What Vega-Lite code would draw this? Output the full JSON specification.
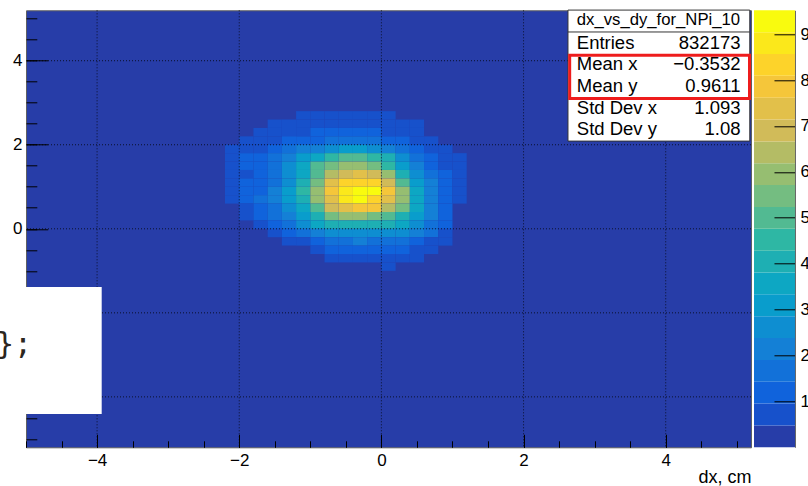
{
  "$schema": "https://vega.github.io/schema/vega-lite/v6.json",
  "autosize": {"type": "pad"},
  "padding": {"left": -5, "top": 8.3, "right": 0, "bottom": 0},
  "background": "white",
  "config": {
    "font": "Liberation Sans",
    "view": {"stroke": null},
    "axis": {"labelColor": "#000", "titleColor": "#000", "tickColor": "#000", "zindex": 0}
  },
  "spacing": 3,
  "bounds": "flush",
  "datasets": {
    "cells": [
      {"x":-1.2,"x2":-1,"y":2.6,"y2":2.8,"n":714},{"x":-1,"x2":-0.8,"y":2.6,"y2":2.8,"n":714},{"x":-0.8,"x2":-0.6,"y":2.6,"y2":2.8,"n":714},{"x":-0.6,"x2":-0.4,"y":2.6,"y2":2.8,"n":714},{"x":-0.4,"x2":-0.2,"y":2.6,"y2":2.8,"n":714},{"x":-0.2,"x2":0,"y":2.6,"y2":2.8,"n":714},{"x":0,"x2":0.2,"y":2.6,"y2":2.8,"n":714},

      {"x":-1.6,"x2":-1.4,"y":2.4,"y2":2.6,"n":714},{"x":-1.4,"x2":-1.2,"y":2.4,"y2":2.6,"n":714},{"x":-1.2,"x2":-1,"y":2.4,"y2":2.6,"n":714},{"x":-1,"x2":-0.8,"y":2.4,"y2":2.6,"n":714},{"x":-0.8,"x2":-0.6,"y":2.4,"y2":2.6,"n":714},{"x":-0.6,"x2":-0.4,"y":2.4,"y2":2.6,"n":714},{"x":-0.4,"x2":-0.2,"y":2.4,"y2":2.6,"n":714},{"x":-0.2,"x2":0,"y":2.4,"y2":2.6,"n":714},{"x":0,"x2":0.2,"y":2.4,"y2":2.6,"n":714},{"x":0.2,"x2":0.4,"y":2.4,"y2":2.6,"n":714},{"x":0.4,"x2":0.6,"y":2.4,"y2":2.6,"n":714},

      {"x":-1.8,"x2":-1.6,"y":2.2,"y2":2.4,"n":714},{"x":-1.6,"x2":-1.4,"y":2.2,"y2":2.4,"n":714},{"x":-1.4,"x2":-1.2,"y":2.2,"y2":2.4,"n":714},{"x":-1.2,"x2":-1,"y":2.2,"y2":2.4,"n":714},{"x":-1,"x2":-0.8,"y":2.2,"y2":2.4,"n":1190},{"x":-0.8,"x2":-0.6,"y":2.2,"y2":2.4,"n":1190},{"x":-0.6,"x2":-0.4,"y":2.2,"y2":2.4,"n":1190},{"x":-0.4,"x2":-0.2,"y":2.2,"y2":2.4,"n":1190},{"x":-0.2,"x2":0,"y":2.2,"y2":2.4,"n":1190},{"x":0,"x2":0.2,"y":2.2,"y2":2.4,"n":714},{"x":0.2,"x2":0.4,"y":2.2,"y2":2.4,"n":714},{"x":0.4,"x2":0.6,"y":2.2,"y2":2.4,"n":714},

      {"x":-2,"x2":-1.8,"y":2,"y2":2.2,"n":714},{"x":-1.8,"x2":-1.6,"y":2,"y2":2.2,"n":714},{"x":-1.6,"x2":-1.4,"y":2,"y2":2.2,"n":714},{"x":-1.4,"x2":-1.2,"y":2,"y2":2.2,"n":1190},{"x":-1.2,"x2":-1,"y":2,"y2":2.2,"n":1190},{"x":-1,"x2":-0.8,"y":2,"y2":2.2,"n":1190},{"x":-0.8,"x2":-0.6,"y":2,"y2":2.2,"n":1666},{"x":-0.6,"x2":-0.4,"y":2,"y2":2.2,"n":1666},{"x":-0.4,"x2":-0.2,"y":2,"y2":2.2,"n":1666},{"x":-0.2,"x2":0,"y":2,"y2":2.2,"n":1666},{"x":0,"x2":0.2,"y":2,"y2":2.2,"n":1190},{"x":0.2,"x2":0.4,"y":2,"y2":2.2,"n":1190},{"x":0.4,"x2":0.6,"y":2,"y2":2.2,"n":714},{"x":0.6,"x2":0.8,"y":2,"y2":2.2,"n":714},

      {"x":-2.2,"x2":-2,"y":1.8,"y2":2,"n":714},{"x":-2,"x2":-1.8,"y":1.8,"y2":2,"n":714},{"x":-1.8,"x2":-1.6,"y":1.8,"y2":2,"n":714},{"x":-1.6,"x2":-1.4,"y":1.8,"y2":2,"n":1190},{"x":-1.4,"x2":-1.2,"y":1.8,"y2":2,"n":1666},{"x":-1.2,"x2":-1,"y":1.8,"y2":2,"n":2142},{"x":-1,"x2":-0.8,"y":1.8,"y2":2,"n":2142},{"x":-0.8,"x2":-0.6,"y":1.8,"y2":2,"n":2618},{"x":-0.6,"x2":-0.4,"y":1.8,"y2":2,"n":3094},{"x":-0.4,"x2":-0.2,"y":1.8,"y2":2,"n":3094},{"x":-0.2,"x2":0,"y":1.8,"y2":2,"n":2618},{"x":0,"x2":0.2,"y":1.8,"y2":2,"n":2142},{"x":0.2,"x2":0.4,"y":1.8,"y2":2,"n":1666},{"x":0.4,"x2":0.6,"y":1.8,"y2":2,"n":1190},{"x":0.6,"x2":0.8,"y":1.8,"y2":2,"n":714},{"x":0.8,"x2":1,"y":1.8,"y2":2,"n":714},

      {"x":-2.2,"x2":-2,"y":1.6,"y2":1.8,"n":714},{"x":-2,"x2":-1.8,"y":1.6,"y2":1.8,"n":1190},{"x":-1.8,"x2":-1.6,"y":1.6,"y2":1.8,"n":1190},{"x":-1.6,"x2":-1.4,"y":1.6,"y2":1.8,"n":1666},{"x":-1.4,"x2":-1.2,"y":1.6,"y2":1.8,"n":2142},{"x":-1.2,"x2":-1,"y":1.6,"y2":1.8,"n":3094},{"x":-1,"x2":-0.8,"y":1.6,"y2":1.8,"n":3570},{"x":-0.8,"x2":-0.6,"y":1.6,"y2":1.8,"n":4522},{"x":-0.6,"x2":-0.4,"y":1.6,"y2":1.8,"n":4998},{"x":-0.4,"x2":-0.2,"y":1.6,"y2":1.8,"n":4998},{"x":-0.2,"x2":0,"y":1.6,"y2":1.8,"n":4522},{"x":0,"x2":0.2,"y":1.6,"y2":1.8,"n":4046},{"x":0.2,"x2":0.4,"y":1.6,"y2":1.8,"n":2618},{"x":0.4,"x2":0.6,"y":1.6,"y2":1.8,"n":1666},{"x":0.6,"x2":0.8,"y":1.6,"y2":1.8,"n":1190},{"x":0.8,"x2":1,"y":1.6,"y2":1.8,"n":714},{"x":1,"x2":1.2,"y":1.6,"y2":1.8,"n":714},

      {"x":-2.2,"x2":-2,"y":1.4,"y2":1.6,"n":714},{"x":-2,"x2":-1.8,"y":1.4,"y2":1.6,"n":1190},{"x":-1.8,"x2":-1.6,"y":1.4,"y2":1.6,"n":1190},{"x":-1.6,"x2":-1.4,"y":1.4,"y2":1.6,"n":1666},{"x":-1.4,"x2":-1.2,"y":1.4,"y2":1.6,"n":2618},{"x":-1.2,"x2":-1,"y":1.4,"y2":1.6,"n":3570},{"x":-1,"x2":-0.8,"y":1.4,"y2":1.6,"n":4998},{"x":-0.8,"x2":-0.6,"y":1.4,"y2":1.6,"n":5474},{"x":-0.6,"x2":-0.4,"y":1.4,"y2":1.6,"n":5950},{"x":-0.4,"x2":-0.2,"y":1.4,"y2":1.6,"n":5950},{"x":-0.2,"x2":0,"y":1.4,"y2":1.6,"n":5474},{"x":0,"x2":0.2,"y":1.4,"y2":1.6,"n":4522},{"x":0.2,"x2":0.4,"y":1.4,"y2":1.6,"n":3094},{"x":0.4,"x2":0.6,"y":1.4,"y2":1.6,"n":2142},{"x":0.6,"x2":0.8,"y":1.4,"y2":1.6,"n":1190},{"x":0.8,"x2":1,"y":1.4,"y2":1.6,"n":714},{"x":1,"x2":1.2,"y":1.4,"y2":1.6,"n":714},

      {"x":-2.2,"x2":-2,"y":1.2,"y2":1.4,"n":714},{"x":-2,"x2":-1.8,"y":1.2,"y2":1.4,"n":714},{"x":-1.8,"x2":-1.6,"y":1.2,"y2":1.4,"n":1190},{"x":-1.6,"x2":-1.4,"y":1.2,"y2":1.4,"n":1666},{"x":-1.4,"x2":-1.2,"y":1.2,"y2":1.4,"n":2618},{"x":-1.2,"x2":-1,"y":1.2,"y2":1.4,"n":3570},{"x":-1,"x2":-0.8,"y":1.2,"y2":1.4,"n":4998},{"x":-0.8,"x2":-0.6,"y":1.2,"y2":1.4,"n":6426},{"x":-0.6,"x2":-0.4,"y":1.2,"y2":1.4,"n":6902},{"x":-0.4,"x2":-0.2,"y":1.2,"y2":1.4,"n":7378},{"x":-0.2,"x2":0,"y":1.2,"y2":1.4,"n":6902},{"x":0,"x2":0.2,"y":1.2,"y2":1.4,"n":5950},{"x":0.2,"x2":0.4,"y":1.2,"y2":1.4,"n":4046},{"x":0.4,"x2":0.6,"y":1.2,"y2":1.4,"n":2618},{"x":0.6,"x2":0.8,"y":1.2,"y2":1.4,"n":1666},{"x":0.8,"x2":1,"y":1.2,"y2":1.4,"n":1190},{"x":1,"x2":1.2,"y":1.2,"y2":1.4,"n":714},

      {"x":-2.2,"x2":-2,"y":1,"y2":1.2,"n":714},{"x":-2,"x2":-1.8,"y":1,"y2":1.2,"n":1190},{"x":-1.8,"x2":-1.6,"y":1,"y2":1.2,"n":1190},{"x":-1.6,"x2":-1.4,"y":1,"y2":1.2,"n":1666},{"x":-1.4,"x2":-1.2,"y":1,"y2":1.2,"n":2618},{"x":-1.2,"x2":-1,"y":1,"y2":1.2,"n":4046},{"x":-1,"x2":-0.8,"y":1,"y2":1.2,"n":5474},{"x":-0.8,"x2":-0.6,"y":1,"y2":1.2,"n":7378},{"x":-0.6,"x2":-0.4,"y":1,"y2":1.2,"n":8330},{"x":-0.4,"x2":-0.2,"y":1,"y2":1.2,"n":8330},{"x":-0.2,"x2":0,"y":1,"y2":1.2,"n":8330},{"x":0,"x2":0.2,"y":1,"y2":1.2,"n":6902},{"x":0.2,"x2":0.4,"y":1,"y2":1.2,"n":4998},{"x":0.4,"x2":0.6,"y":1,"y2":1.2,"n":3094},{"x":0.6,"x2":0.8,"y":1,"y2":1.2,"n":2142},{"x":0.8,"x2":1,"y":1,"y2":1.2,"n":1190},{"x":1,"x2":1.2,"y":1,"y2":1.2,"n":714},

      {"x":-2.2,"x2":-2,"y":0.8,"y2":1,"n":714},{"x":-2,"x2":-1.8,"y":0.8,"y2":1,"n":1190},{"x":-1.8,"x2":-1.6,"y":0.8,"y2":1,"n":1190},{"x":-1.6,"x2":-1.4,"y":0.8,"y2":1,"n":2142},{"x":-1.4,"x2":-1.2,"y":0.8,"y2":1,"n":3094},{"x":-1.2,"x2":-1,"y":0.8,"y2":1,"n":4522},{"x":-1,"x2":-0.8,"y":0.8,"y2":1,"n":5950},{"x":-0.8,"x2":-0.6,"y":0.8,"y2":1,"n":7854},{"x":-0.6,"x2":-0.4,"y":0.8,"y2":1,"n":8806},{"x":-0.4,"x2":-0.2,"y":0.8,"y2":1,"n":9282},{"x":-0.2,"x2":0,"y":0.8,"y2":1,"n":9282},{"x":0,"x2":0.2,"y":0.8,"y2":1,"n":7854},{"x":0.2,"x2":0.4,"y":0.8,"y2":1,"n":5950},{"x":0.4,"x2":0.6,"y":0.8,"y2":1,"n":3570},{"x":0.6,"x2":0.8,"y":0.8,"y2":1,"n":2142},{"x":0.8,"x2":1,"y":0.8,"y2":1,"n":1190},{"x":1,"x2":1.2,"y":0.8,"y2":1,"n":714},

      {"x":-2.2,"x2":-2,"y":0.6,"y2":0.8,"n":714},{"x":-2,"x2":-1.8,"y":0.6,"y2":0.8,"n":1190},{"x":-1.8,"x2":-1.6,"y":0.6,"y2":0.8,"n":1666},{"x":-1.6,"x2":-1.4,"y":0.6,"y2":0.8,"n":2142},{"x":-1.4,"x2":-1.2,"y":0.6,"y2":0.8,"n":3094},{"x":-1.2,"x2":-1,"y":0.6,"y2":0.8,"n":4046},{"x":-1,"x2":-0.8,"y":0.6,"y2":0.8,"n":5950},{"x":-0.8,"x2":-0.6,"y":0.6,"y2":0.8,"n":7378},{"x":-0.6,"x2":-0.4,"y":0.6,"y2":0.8,"n":8806},{"x":-0.4,"x2":-0.2,"y":0.6,"y2":0.8,"n":9282},{"x":-0.2,"x2":0,"y":0.6,"y2":0.8,"n":8330},{"x":0,"x2":0.2,"y":0.6,"y2":0.8,"n":7378},{"x":0.2,"x2":0.4,"y":0.6,"y2":0.8,"n":5950},{"x":0.4,"x2":0.6,"y":0.6,"y2":0.8,"n":3570},{"x":0.6,"x2":0.8,"y":0.6,"y2":0.8,"n":2142},{"x":0.8,"x2":1,"y":0.6,"y2":0.8,"n":1190},{"x":1,"x2":1.2,"y":0.6,"y2":0.8,"n":714},

      {"x":-2,"x2":-1.8,"y":0.4,"y2":0.6,"n":714},{"x":-1.8,"x2":-1.6,"y":0.4,"y2":0.6,"n":1190},{"x":-1.6,"x2":-1.4,"y":0.4,"y2":0.6,"n":1666},{"x":-1.4,"x2":-1.2,"y":0.4,"y2":0.6,"n":2618},{"x":-1.2,"x2":-1,"y":0.4,"y2":0.6,"n":3570},{"x":-1,"x2":-0.8,"y":0.4,"y2":0.6,"n":4998},{"x":-0.8,"x2":-0.6,"y":0.4,"y2":0.6,"n":6902},{"x":-0.6,"x2":-0.4,"y":0.4,"y2":0.6,"n":7378},{"x":-0.4,"x2":-0.2,"y":0.4,"y2":0.6,"n":7854},{"x":-0.2,"x2":0,"y":0.4,"y2":0.6,"n":7854},{"x":0,"x2":0.2,"y":0.4,"y2":0.6,"n":6426},{"x":0.2,"x2":0.4,"y":0.4,"y2":0.6,"n":5474},{"x":0.4,"x2":0.6,"y":0.4,"y2":0.6,"n":3570},{"x":0.6,"x2":0.8,"y":0.4,"y2":0.6,"n":2142},{"x":0.8,"x2":1,"y":0.4,"y2":0.6,"n":1190},

      {"x":-2,"x2":-1.8,"y":0.2,"y2":0.4,"n":714},{"x":-1.8,"x2":-1.6,"y":0.2,"y2":0.4,"n":1190},{"x":-1.6,"x2":-1.4,"y":0.2,"y2":0.4,"n":1666},{"x":-1.4,"x2":-1.2,"y":0.2,"y2":0.4,"n":2142},{"x":-1.2,"x2":-1,"y":0.2,"y2":0.4,"n":3094},{"x":-1,"x2":-0.8,"y":0.2,"y2":0.4,"n":4046},{"x":-0.8,"x2":-0.6,"y":0.2,"y2":0.4,"n":5474},{"x":-0.6,"x2":-0.4,"y":0.2,"y2":0.4,"n":5950},{"x":-0.4,"x2":-0.2,"y":0.2,"y2":0.4,"n":5950},{"x":-0.2,"x2":0,"y":0.2,"y2":0.4,"n":5474},{"x":0,"x2":0.2,"y":0.2,"y2":0.4,"n":4998},{"x":0.2,"x2":0.4,"y":0.2,"y2":0.4,"n":4046},{"x":0.4,"x2":0.6,"y":0.2,"y2":0.4,"n":3094},{"x":0.6,"x2":0.8,"y":0.2,"y2":0.4,"n":2142},{"x":0.8,"x2":1,"y":0.2,"y2":0.4,"n":1190},

      {"x":-1.8,"x2":-1.6,"y":0,"y2":0.2,"n":714},{"x":-1.6,"x2":-1.4,"y":0,"y2":0.2,"n":1190},{"x":-1.4,"x2":-1.2,"y":0,"y2":0.2,"n":1666},{"x":-1.2,"x2":-1,"y":0,"y2":0.2,"n":2618},{"x":-1,"x2":-0.8,"y":0,"y2":0.2,"n":3570},{"x":-0.8,"x2":-0.6,"y":0,"y2":0.2,"n":4046},{"x":-0.6,"x2":-0.4,"y":0,"y2":0.2,"n":4046},{"x":-0.4,"x2":-0.2,"y":0,"y2":0.2,"n":4046},{"x":-0.2,"x2":0,"y":0,"y2":0.2,"n":4046},{"x":0,"x2":0.2,"y":0,"y2":0.2,"n":4046},{"x":0.2,"x2":0.4,"y":0,"y2":0.2,"n":3570},{"x":0.4,"x2":0.6,"y":0,"y2":0.2,"n":2618},{"x":0.6,"x2":0.8,"y":0,"y2":0.2,"n":1666},{"x":0.8,"x2":1,"y":0,"y2":0.2,"n":1190},

      {"x":-1.6,"x2":-1.4,"y":-0.2,"y2":0,"n":714},{"x":-1.4,"x2":-1.2,"y":-0.2,"y2":0,"n":1190},{"x":-1.2,"x2":-1,"y":-0.2,"y2":0,"n":1666},{"x":-1,"x2":-0.8,"y":-0.2,"y2":0,"n":2142},{"x":-0.8,"x2":-0.6,"y":-0.2,"y2":0,"n":2618},{"x":-0.6,"x2":-0.4,"y":-0.2,"y2":0,"n":2618},{"x":-0.4,"x2":-0.2,"y":-0.2,"y2":0,"n":2618},{"x":-0.2,"x2":0,"y":-0.2,"y2":0,"n":2618},{"x":0,"x2":0.2,"y":-0.2,"y2":0,"n":2618},{"x":0.2,"x2":0.4,"y":-0.2,"y2":0,"n":2618},{"x":0.4,"x2":0.6,"y":-0.2,"y2":0,"n":2142},{"x":0.6,"x2":0.8,"y":-0.2,"y2":0,"n":1666},{"x":0.8,"x2":1,"y":-0.2,"y2":0,"n":714},

      {"x":-1.4,"x2":-1.2,"y":-0.4,"y2":-0.2,"n":714},{"x":-1.2,"x2":-1,"y":-0.4,"y2":-0.2,"n":714},{"x":-1,"x2":-0.8,"y":-0.4,"y2":-0.2,"n":1190},{"x":-0.8,"x2":-0.6,"y":-0.4,"y2":-0.2,"n":1666},{"x":-0.6,"x2":-0.4,"y":-0.4,"y2":-0.2,"n":1666},{"x":-0.4,"x2":-0.2,"y":-0.4,"y2":-0.2,"n":2142},{"x":-0.2,"x2":0,"y":-0.4,"y2":-0.2,"n":1666},{"x":0,"x2":0.2,"y":-0.4,"y2":-0.2,"n":1666},{"x":0.2,"x2":0.4,"y":-0.4,"y2":-0.2,"n":1666},{"x":0.4,"x2":0.6,"y":-0.4,"y2":-0.2,"n":1190},{"x":0.6,"x2":0.8,"y":-0.4,"y2":-0.2,"n":714},{"x":0.8,"x2":1,"y":-0.4,"y2":-0.2,"n":714},

      {"x":-1,"x2":-0.8,"y":-0.6,"y2":-0.4,"n":714},{"x":-0.8,"x2":-0.6,"y":-0.6,"y2":-0.4,"n":1190},{"x":-0.6,"x2":-0.4,"y":-0.6,"y2":-0.4,"n":1190},{"x":-0.4,"x2":-0.2,"y":-0.6,"y2":-0.4,"n":1190},{"x":-0.2,"x2":0,"y":-0.6,"y2":-0.4,"n":1190},{"x":0,"x2":0.2,"y":-0.6,"y2":-0.4,"n":1190},{"x":0.2,"x2":0.4,"y":-0.6,"y2":-0.4,"n":1190},{"x":0.4,"x2":0.6,"y":-0.6,"y2":-0.4,"n":714},{"x":0.6,"x2":0.8,"y":-0.6,"y2":-0.4,"n":714},

      {"x":-0.8,"x2":-0.6,"y":-0.8,"y2":-0.6,"n":714},{"x":-0.6,"x2":-0.4,"y":-0.8,"y2":-0.6,"n":714},{"x":-0.4,"x2":-0.2,"y":-0.8,"y2":-0.6,"n":714},{"x":-0.2,"x2":0,"y":-0.8,"y2":-0.6,"n":714},{"x":0,"x2":0.2,"y":-0.8,"y2":-0.6,"n":714},{"x":0.2,"x2":0.4,"y":-0.8,"y2":-0.6,"n":714},{"x":0.4,"x2":0.6,"y":-0.8,"y2":-0.6,"n":714},

      {"x":0,"x2":0.2,"y":-1,"y2":-0.8,"n":714}
    ],
    "gridlines": [{"v": -4}, {"v": -2}, {"v": 0}, {"v": 2}, {"v": 4}],
    "palette": [
      {"lo":0,"hi":476},{"lo":476,"hi":952},{"lo":952,"hi":1428},{"lo":1428,"hi":1904},{"lo":1904,"hi":2380},
      {"lo":2380,"hi":2856},{"lo":2856,"hi":3332},{"lo":3332,"hi":3808},{"lo":3808,"hi":4284},{"lo":4284,"hi":4760},
      {"lo":4760,"hi":5236},{"lo":5236,"hi":5712},{"lo":5712,"hi":6188},{"lo":6188,"hi":6664},{"lo":6664,"hi":7140},
      {"lo":7140,"hi":7616},{"lo":7616,"hi":8092},{"lo":8092,"hi":8568},{"lo":8568,"hi":9044},{"lo":9044,"hi":9520}
    ],
    "stats": [
      {"stat":"Entries","value":"832173","line":1},
      {"stat":"Mean x","value":"−0.3532","line":2},
      {"stat":"Mean y","value":"0.9611","line":3},
      {"stat":"Std Dev x","value":"1.093","line":4},
      {"stat":"Std Dev y","value":"1.08","line":5}
    ]
  },
  "hconcat": [
    {
      "width": 725,
      "height": 437,
      "view": {"fill": "#273da8", "stroke": "#5f5f5f", "strokeWidth": 1},
      "resolve": {"scale": {"y": "independent"}, "axis": {"x": "independent", "y": "independent"}},
      "layer": [
        {
          "description": "2D histogram cells, coloured in 20 contour bands; carries the major ticks",
          "data": {"name": "cells"},
          "mark": {"type": "rect"},
          "encoding": {
            "x": {"field": "x", "type": "quantitative",
                  "scale": {"domain": [-5, 5.2], "nice": false, "zero": false},
                  "axis": {"orient": "bottom", "values": [-4, -2, 0, 2, 4], "labels": false, "domain": false,
                           "tickSize": -13, "tickWidth": 1, "grid": false, "title": null}},
            "x2": {"field": "x2"},
            "y": {"field": "y", "type": "quantitative",
                  "scale": {"domain": [-5.2, 5.2], "nice": false, "zero": false},
                  "axis": {"orient": "left", "values": [-4, -2, 0, 2, 4], "labels": false, "domain": false,
                           "tickSize": -21.7, "tickWidth": 1, "grid": false, "title": null}},
            "y2": {"field": "y2"},
            "color": {"field": "n", "type": "quantitative", "legend": null,
                      "scale": {"type": "threshold",
                                "domain": [476, 952, 1428, 1904, 2380, 2856, 3332, 3808, 4284, 4760, 5236, 5712, 6188, 6664, 7140, 7616, 8092, 8568, 9044],
                                "range": ["#273da8", "#1751cb", "#1063dc", "#1271d9", "#1480d6", "#0e8ed1", "#099dcc", "#0da7c3", "#1eafb3", "#2eb7a4",
                                          "#52ba92", "#74bd81", "#96be71", "#b4bc65", "#d1bb59", "#e2c04a", "#f5c63a", "#fdd32a", "#fbe81b", "#f9fb0e"]}}
          }
        },
        {
          "description": "vertical dotted grid lines at the major x ticks",
          "data": {"name": "gridlines"},
          "mark": {"type": "rule", "stroke": "#000", "strokeOpacity": 0.75, "strokeWidth": 1, "strokeDash": [1, 2]},
          "encoding": {
            "x": {"field": "v", "type": "quantitative", "scale": {"domain": [-5, 5.2], "nice": false, "zero": false}, "axis": null}
          }
        },
        {
          "description": "horizontal dotted grid lines at the major y ticks",
          "data": {"name": "gridlines"},
          "mark": {"type": "rule", "stroke": "#000", "strokeOpacity": 0.75, "strokeWidth": 1, "strokeDash": [1, 2]},
          "encoding": {
            "y": {"field": "v", "type": "quantitative", "scale": {"domain": [-5.2, 5.2], "nice": false, "zero": false}, "axis": null}
          }
        },
        {
          "description": "statistics box",
          "data": {"values": [{}]},
          "mark": {"type": "rect", "fill": "white", "stroke": "#333", "strokeWidth": 1},
          "encoding": {
            "x": {"datum": 2.625, "type": "quantitative", "scale": {"domain": [-5, 5.2], "nice": false, "zero": false}, "axis": null},
            "x2": {"datum": 5.183},
            "y": {"datum": 5.205, "type": "quantitative", "scale": {"domain": [-5.2, 5.2], "nice": false, "zero": false}, "axis": null},
            "y2": {"datum": 2.087}
          }
        },
        {
          "data": {"values": [{}]},
          "mark": {"type": "rule", "stroke": "#333", "strokeWidth": 1},
          "encoding": {
            "x": {"datum": 2.625, "type": "quantitative", "scale": {"domain": [-5, 5.2], "nice": false, "zero": false}, "axis": null},
            "x2": {"datum": 5.183},
            "y": {"datum": 4.684, "type": "quantitative", "scale": {"domain": [-5.2, 5.2], "nice": false, "zero": false}, "axis": null}
          }
        },
        {
          "description": "red frame round the mean values",
          "data": {"values": [{}]},
          "mark": {"type": "rect", "filled": false, "stroke": "#ee1c1c", "strokeWidth": 3},
          "encoding": {
            "x": {"datum": 2.649, "type": "quantitative", "scale": {"domain": [-5, 5.2], "nice": false, "zero": false}, "axis": null},
            "x2": {"datum": 5.179},
            "y": {"datum": 4.129, "type": "quantitative", "scale": {"domain": [-5.2, 5.2], "nice": false, "zero": false}, "axis": null},
            "y2": {"datum": 3.099}
          }
        },
        {
          "data": {"values": [{}]},
          "mark": {"type": "text", "text": "dx_vs_dy_for_NPi_10", "fontSize": 16.7, "align": "center", "baseline": "alphabetic", "color": "#000"},
          "encoding": {
            "x": {"datum": 3.898, "type": "quantitative", "scale": {"domain": [-5, 5.2], "nice": false, "zero": false}, "axis": null},
            "y": {"datum": 4.855, "type": "quantitative", "scale": {"domain": [-5.2, 5.2], "nice": false, "zero": false}, "axis": null}
          }
        },
        {
          "data": {"name": "stats"},
          "mark": {"type": "text", "fontSize": 18.5, "align": "left", "baseline": "alphabetic", "color": "#000"},
          "encoding": {
            "x": {"datum": 2.75, "type": "quantitative", "scale": {"domain": [-5, 5.2], "nice": false, "zero": false}, "axis": null},
            "y": {"field": "line", "type": "quantitative",
                  "scale": {"domain": [-0.7691, 19.4161], "reverse": true, "nice": false, "zero": false}, "axis": null},
            "text": {"field": "stat"}
          }
        },
        {
          "data": {"name": "stats"},
          "mark": {"type": "text", "fontSize": 18.5, "align": "right", "baseline": "alphabetic", "color": "#000"},
          "encoding": {
            "x": {"datum": 5.052, "type": "quantitative", "scale": {"domain": [-5, 5.2], "nice": false, "zero": false}, "axis": null},
            "y": {"field": "line", "type": "quantitative",
                  "scale": {"domain": [-0.7691, 19.4161], "reverse": true, "nice": false, "zero": false}, "axis": null},
            "text": {"field": "value"}
          }
        },
        {
          "description": "white patch over the lower left corner; carries the minor ticks",
          "data": {"values": [{}]},
          "mark": {"type": "rect", "fill": "white", "clip": false},
          "encoding": {
            "x": {"datum": -5.37, "type": "quantitative",
                  "scale": {"domain": [-5, 5.2], "nice": false, "zero": false},
                  "axis": {"orient": "bottom",
                           "values": [-5, -4.5, -4, -3.5, -3, -2.5, -2, -1.5, -1, -0.5, 0, 0.5, 1, 1.5, 2, 2.5, 3, 3.5, 4, 4.5, 5],
                           "labels": false, "domain": false, "grid": false, "tickSize": -6.5, "tickWidth": 1, "title": null}},
            "x2": {"datum": -3.935},
            "y": {"datum": -1.385, "type": "quantitative",
                  "scale": {"domain": [-5.2, 5.2], "nice": false, "zero": false},
                  "axis": {"orient": "left",
                           "values": [-5, -4.5, -4, -3.5, -3, -2.5, -2, -1.5, -1, -0.5, 0, 0.5, 1, 1.5, 2, 2.5, 3, 3.5, 4, 4.5, 5],
                           "labels": false, "domain": false, "grid": false, "tickSize": -10.8, "tickWidth": 1, "title": null}},
            "y2": {"datum": -4.407}
          }
        },
        {
          "description": "code fragment on the white patch; carries the tick labels",
          "data": {"values": [{}]},
          "mark": {"type": "text", "text": "};", "font": "DejaVu Sans Mono", "fontSize": 30, "align": "left",
                   "baseline": "alphabetic", "color": "#2b2620", "clip": false},
          "encoding": {
            "x": {"datum": -5.422, "type": "quantitative",
                  "scale": {"domain": [-5, 5.2], "nice": false, "zero": false},
                  "axis": {"orient": "bottom", "values": [-4, -2, 0, 2, 4], "ticks": false, "domain": false, "grid": false,
                           "labelFontSize": 17, "labelPadding": 5, "labelFont": "Liberation Sans",
                           "title": "dx, cm", "titleFontSize": 18, "titleFontWeight": "normal", "titleFont": "Liberation Sans",
                           "titleAnchor": "end", "titlePadding": 0}},
            "y": {"datum": -2.987, "type": "quantitative",
                  "scale": {"domain": [-5.2, 5.2], "nice": false, "zero": false},
                  "axis": {"orient": "left", "values": [-4, -2, 0, 2, 4], "ticks": false, "domain": false, "grid": false,
                           "labelFontSize": 17, "labelPadding": 4, "labelFont": "Liberation Sans", "title": null}}
          }
        }
      ]
    },
    {
      "description": "colour palette axis",
      "width": 41,
      "height": 437,
      "data": {"name": "palette"},
      "mark": {"type": "rect"},
      "encoding": {
        "y": {"field": "lo", "type": "quantitative",
              "scale": {"domain": [0, 9520], "nice": false, "zero": false},
              "axis": {"orient": "right", "values": [1000, 2000, 3000, 4000, 5000, 6000, 7000, 8000, 9000],
                       "labelExpr": "format(datum.value / 1000, 'd')", "tickSize": -21, "tickWidth": 1,
                       "domainColor": "#666", "domainWidth": 1, "labelFontSize": 17, "labelPadding": 26,
                       "grid": false, "title": null, "zindex": 1}},
        "y2": {"field": "hi"},
        "color": {"field": "lo", "type": "quantitative", "legend": null,
                  "scale": {"type": "threshold",
                            "domain": [476, 952, 1428, 1904, 2380, 2856, 3332, 3808, 4284, 4760, 5236, 5712, 6188, 6664, 7140, 7616, 8092, 8568, 9044],
                            "range": ["#273da8", "#1751cb", "#1063dc", "#1271d9", "#1480d6", "#0e8ed1", "#099dcc", "#0da7c3", "#1eafb3", "#2eb7a4",
                                      "#52ba92", "#74bd81", "#96be71", "#b4bc65", "#d1bb59", "#e2c04a", "#f5c63a", "#fdd32a", "#fbe81b", "#f9fb0e"]}}
      }
    }
  ]
}
